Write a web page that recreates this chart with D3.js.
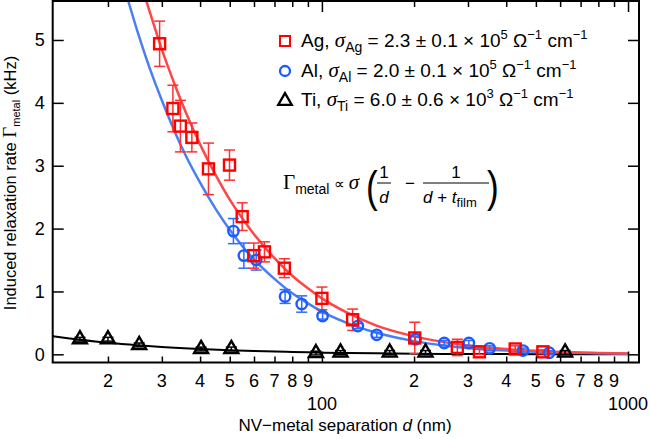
<!DOCTYPE html>
<html>
<head>
<meta charset="utf-8">
<script src="https://cdn.jsdelivr.net/npm/d3@7"></script>
<style>
  body { margin: 0; background: #fff; }
  svg { font-family: "Liberation Sans", Arial, sans-serif; }
</style>
</head>
<body>
<svg id="chart" width="650" height="439"></svg>
<script>
// Ag (red squares)
const agD = [29.5, 32.6, 34.5, 37.6, 42.6, 49.9, 54.9, 59.9, 64.9, 75.4, 100, 126, 201, 277, 327, 428, 527];
const agV = [4.94, 3.91, 3.63, 3.45, 2.95, 3.01, 2.19, 1.57, 1.63, 1.37, 0.89, 0.55, 0.26, 0.11, 0.04, 0.085, 0.04];
const agE = [0.36, 0.37, 0.41, 0.23, 0.41, 0.24, 0.22, 0.2, 0.16, 0.15, 0.18, 0.17, 0.25, 0.13, 0.04, 0.05, 0.03];

// Al (blue circles)
const alD = [51.4, 55.6, 61.0, 75.8, 85.9, 100.5, 131, 151, 202, 251, 302, 353, 454, 553];
const alV = [1.96, 1.57, 1.50, 0.92, 0.80, 0.61, 0.45, 0.31, 0.24, 0.18, 0.18, 0.095, 0.06, 0.025];
const alE = [0.2, 0.2, 0.16, 0.11, 0.13, 0.05, 0.04, 0.04, 0.04, 0.04, 0.04, 0.04, 0.04, 0.03];

// Ti (black triangles)
const tiD = [16.2, 20, 25.3, 40.3, 50.6, 95.6, 115, 166.5, 218, 623];
const tiV = [0.24, 0.24, 0.15, 0.085, 0.085, 0.02, 0.03, 0.03, 0.03, 0.03];
const tiE = [0.03, 0.03, 0.03, 0.03, 0.03, 0.03, 0.03, 0.03, 0.03, 0.03];

// fit curves
const agFitD = [26.7, 28, 30, 33, 36, 40, 45, 50, 55, 60, 70, 80, 90, 100, 120, 150, 200, 250, 300, 400, 500, 600, 800, 1000];
const agFitV = [5.62, 5.30, 4.85, 4.30, 3.84, 3.34, 2.85, 2.46, 2.16, 1.91, 1.53, 1.25, 1.05, 0.89, 0.67, 0.46, 0.286, 0.194, 0.141, 0.083, 0.055, 0.039, 0.023, 0.015];
const alFitD = [23.3, 25, 28, 30, 33, 36, 40, 45, 50, 55, 60, 70, 80, 90, 100, 120, 150, 200, 250, 300, 400, 500, 600, 800, 1000];
const alFitV = [5.62, 5.13, 4.42, 4.04, 3.55, 3.15, 2.73, 2.31, 1.98, 1.72, 1.51, 1.20, 0.97, 0.81, 0.68, 0.505, 0.346, 0.21, 0.141, 0.101, 0.059, 0.039, 0.028, 0.016, 0.010];
const tiFitD = [13.2, 15, 20, 25, 30, 40, 50, 60, 80, 100, 150, 200, 300, 500, 1000];
const tiFitV = [0.289, 0.252, 0.185, 0.145, 0.118, 0.085, 0.065, 0.052, 0.037, 0.027, 0.016, 0.010, 0.0055, 0.0024, 0.0007];

const xMinor = [20, 30, 40, 50, 60, 70, 80, 90, 200, 300, 400, 500, 600, 700, 800, 900];
const xMajor = [100, 1000];
const yTicks = [0, 1, 2, 3, 4, 5];

const svg = d3.select("#chart");
const L = 52.7, R = 639, T = 1, B = 362.5;

const x = d3.scaleLog().domain([13.2, 1086]).range([L, R]);
const y = d3.scaleLinear().domain([-0.13, 5.62]).range([B, T]);

const RED = "#ff0000", BLUE = "#1a5cff";

// fit lines
const line = d3.line().x(d => x(d[0])).y(d => y(d[1])).curve(d3.curveMonotoneX);
const plot = svg.append("g");
plot.append("path").datum(tiFitD.map((d, i) => [d, tiFitV[i]]))
  .attr("d", line).attr("fill", "none").attr("stroke", "#000").attr("stroke-width", 2);
plot.append("path").datum(alFitD.map((d, i) => [d, alFitV[i]]))
  .attr("d", line).attr("fill", "none").attr("stroke", "#4a7ff2").attr("stroke-width", 2.5);
plot.append("path").datum(agFitD.map((d, i) => [d, agFitV[i]]))
  .attr("d", line).attr("fill", "none").attr("stroke", "#ff4646").attr("stroke-width", 2.5);

// error bars
function errorBars(ds, vs, es, color) {
  const g = plot.append("g").attr("stroke", color).attr("stroke-width", 1.5);
  ds.forEach((d, i) => {
    const cx = x(d), y1 = y(vs[i] - es[i]), y2 = y(vs[i] + es[i]);
    g.append("line").attr("x1", cx).attr("x2", cx).attr("y1", y1).attr("y2", y2);
    g.append("line").attr("x1", cx - 5.5).attr("x2", cx + 5.5).attr("y1", y1).attr("y2", y1);
    g.append("line").attr("x1", cx - 5.5).attr("x2", cx + 5.5).attr("y1", y2).attr("y2", y2);
  });
}
errorBars(tiD, tiV, tiE, "#000");
errorBars(alD, alV, alE, "#2f6bff");
errorBars(agD, agV, agE, "#ff3030");

// markers
const tri = d3.symbol().type(d3.symbolTriangle).size(85);
plot.append("g").selectAll("path").data(tiD.map((d, i) => [d, tiV[i]])).join("path")
  .attr("d", tri).attr("transform", d => `translate(${x(d[0])},${y(d[1])})`)
  .attr("fill", "none").attr("stroke", "#000").attr("stroke-width", 2.4);
plot.append("g").selectAll("circle").data(alD.map((d, i) => [d, alV[i]])).join("circle")
  .attr("cx", d => x(d[0])).attr("cy", d => y(d[1])).attr("r", 5.2)
  .attr("fill", "none").attr("stroke", BLUE).attr("stroke-width", 2.4);
plot.append("g").selectAll("rect").data(agD.map((d, i) => [d, agV[i]])).join("rect")
  .attr("x", d => x(d[0]) - 5.5).attr("y", d => y(d[1]) - 5.5).attr("width", 11).attr("height", 11)
  .attr("fill", "none").attr("stroke", RED).attr("stroke-width", 2.4);

// frame
svg.append("rect").attr("x", L).attr("y", T).attr("width", R - L).attr("height", B - T)
  .attr("fill", "none").attr("stroke", "#000").attr("stroke-width", 2);

// axes (ticks inward)
const minorLab = d => String(Math.round(d / Math.pow(10, Math.floor(Math.log10(d) + 1e-9))));
const xb = svg.append("g").attr("transform", `translate(0,${B})`)
  .call(d3.axisBottom(x).tickValues(xMinor.concat(xMajor)).tickSize(-6).tickFormat(""));
xb.select(".domain").remove();
xb.selectAll(".tick line").attr("stroke-width", 1.5)
  .attr("y2", d => xMajor.includes(d) ? -11 : -6);
const xt = svg.append("g").attr("transform", `translate(0,${T})`)
  .call(d3.axisTop(x).tickValues(xMinor.concat(xMajor)).tickFormat(""));
xt.select(".domain").remove();
xt.selectAll(".tick line").attr("stroke-width", 1.5)
  .attr("y2", d => xMajor.includes(d) ? 11 : 6);

const xl = svg.append("g").attr("font-size", 18).attr("text-anchor", "middle");
xl.selectAll("text.mi").data(xMinor).join("text").attr("class", "mi")
  .attr("x", d => x(d)).attr("y", 387).text(minorLab);
xl.selectAll("text.ma").data(xMajor).join("text").attr("class", "ma")
  .attr("x", d => x(d)).attr("y", 410).text(d => d);

const yl = svg.append("g").attr("transform", `translate(${L},0)`)
  .call(d3.axisLeft(y).tickValues(yTicks).tickSize(-11).tickPadding(8).tickFormat(d3.format("d")));
yl.select(".domain").remove();
yl.selectAll(".tick line").attr("stroke-width", 1.5);
yl.selectAll(".tick text").attr("font-size", 18).attr("fill", "#000").attr("font-family", "Liberation Sans, Arial, sans-serif");
const yr = svg.append("g").attr("transform", `translate(${R},0)`)
  .call(d3.axisRight(y).tickValues(yTicks).tickSize(-11).tickFormat(""));
yr.select(".domain").remove();
yr.selectAll(".tick line").attr("stroke-width", 1.5);

// axis titles
const xTitle = svg.append("text").attr("x", 345).attr("y", 431).attr("text-anchor", "middle").attr("font-size", 17);
xTitle.append("tspan").text("NV\u2212metal separation ");
xTitle.append("tspan").attr("font-style", "italic").text("d");
xTitle.append("tspan").text(" (nm)");

const yTitle = svg.append("text").attr("transform", "translate(16,183) rotate(-90)")
  .attr("text-anchor", "middle").attr("font-size", 16.5);
yTitle.append("tspan").text("Induced relaxation rate ");
yTitle.append("tspan").attr("font-family", "Liberation Serif").attr("font-size", 19).text("\u0393");
yTitle.append("tspan").attr("font-size", 11).attr("dy", 4).text("metal");
yTitle.append("tspan").attr("dy", -4).text(" (kHz)");

// legend
const leg = svg.append("g").attr("font-size", 19);
const rows = [
  { el: "Ag", sub: "Ag", val: "2.3 \u00b1 0.1 \u00d7 10", exp: "5", yy: 41 },
  { el: "Al", sub: "Al", val: "2.0 \u00b1 0.1 \u00d7 10", exp: "5", yy: 71 },
  { el: "Ti", sub: "Ti", val: "6.0 \u00b1 0.6 \u00d7 10", exp: "3", yy: 100 }
];
leg.append("rect").attr("x", 280).attr("y", 36).attr("width", 10).attr("height", 10)
  .attr("fill", "none").attr("stroke", RED).attr("stroke-width", 2);
leg.append("circle").attr("cx", 285).attr("cy", 71).attr("r", 5)
  .attr("fill", "none").attr("stroke", BLUE).attr("stroke-width", 2.3);
leg.append("path").attr("d", d3.symbol().type(d3.symbolTriangle).size(80)).attr("transform", "translate(285,101)")
  .attr("fill", "none").attr("stroke", "#000").attr("stroke-width", 2.3);
rows.forEach(r => {
  const t = leg.append("text").attr("x", 301).attr("y", r.yy + 6);
  t.append("tspan").text(r.el + ", ");
  t.append("tspan").attr("font-family", "Liberation Serif").attr("font-style", "italic").attr("font-size", 21).text("\u03c3");
  t.append("tspan").attr("font-size", 14).attr("dy", 5).text(r.sub);
  t.append("tspan").attr("dy", -5).text(" = " + r.val);
  t.append("tspan").attr("font-size", 13).attr("dy", -8).text(r.exp);
  t.append("tspan").attr("dy", 8).text(" \u03a9");
  t.append("tspan").attr("font-size", 13).attr("dy", -8).text("\u22121");
  t.append("tspan").attr("dy", 8).text(" cm");
  t.append("tspan").attr("font-size", 13).attr("dy", -8).text("\u22121");
});

// formula
const f = svg.append("g").attr("font-size", 17);
const g1 = f.append("text").attr("x", 283).attr("y", 189);
g1.append("tspan").attr("font-family", "Liberation Serif").attr("font-size", 21).text("\u0393");
g1.append("tspan").attr("font-size", 14).attr("dy", 5).text("metal");
g1.append("tspan").attr("dy", -5).attr("font-size", 15).text(" \u221d ");
g1.append("tspan").attr("font-family", "Liberation Serif").attr("font-style", "italic").attr("font-size", 21).text("\u03c3");
f.append("text").attr("x", 366).attr("y", 202).attr("font-size", 44).attr("font-weight", 100)
  .attr("transform", "translate(366,186) scale(0.8,1) translate(-366,-186)").text("(");
f.append("text").attr("x", 384).attr("y", 178).attr("text-anchor", "middle").text("1");
f.append("line").attr("x1", 377).attr("x2", 391).attr("y1", 183).attr("y2", 183).attr("stroke", "#000").attr("stroke-width", 1);
f.append("text").attr("x", 384).attr("y", 203).attr("text-anchor", "middle").attr("font-style", "italic").text("d");
f.append("text").attr("x", 405).attr("y", 189).text("\u2212");
f.append("text").attr("x", 456).attr("y", 178).attr("text-anchor", "middle").text("1");
f.append("line").attr("x1", 423).attr("x2", 489).attr("y1", 183).attr("y2", 183).attr("stroke", "#000").attr("stroke-width", 1);
const den = f.append("text").attr("x", 423).attr("y", 203);
den.append("tspan").attr("font-style", "italic").text("d");
den.append("tspan").text(" + ");
den.append("tspan").attr("font-style", "italic").text("t");
den.append("tspan").attr("font-size", 13).attr("dy", 4).text("film");
f.append("text").attr("x", 487).attr("y", 202).attr("font-size", 44).attr("font-weight", 100)
  .attr("transform", "translate(487,186) scale(0.8,1) translate(-487,-186)").text(")");
</script>
</body>
</html>
